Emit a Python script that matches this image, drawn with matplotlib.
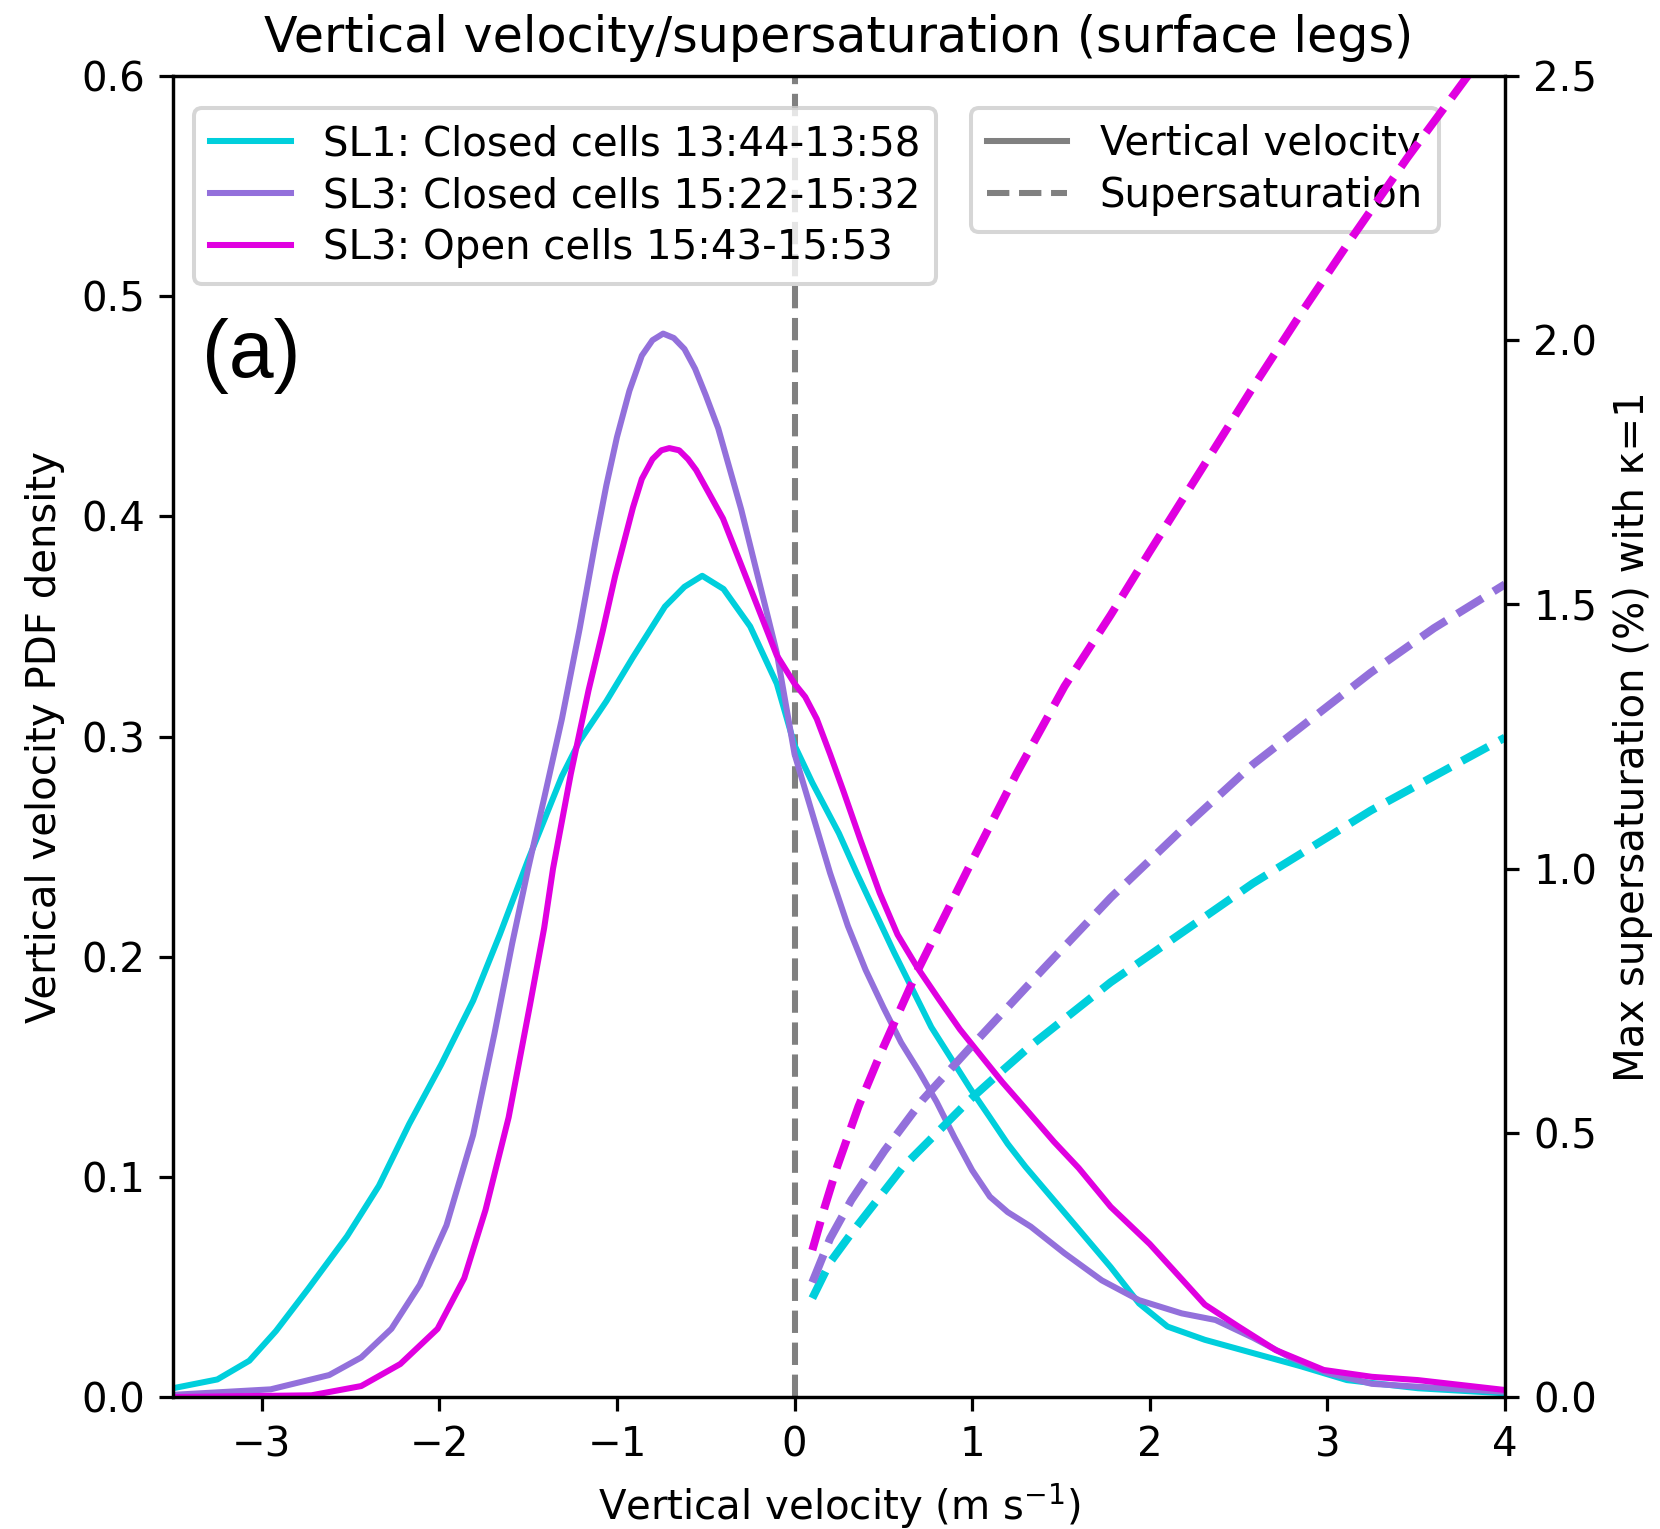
import matplotlib
matplotlib.use("Agg")
import matplotlib.pyplot as plt
from matplotlib.lines import Line2D

# ---------------- data ----------------
labels = ["SL1: Closed cells 13:44-13:58",
          "SL3: Closed cells 15:22-15:32",
          "SL3: Open cells 15:43-15:53"]
colors = ["#00cfdc", "mediumpurple", "#e000e0"]

# vertical velocity PDFs (left axis)
sl1_w = [-3.5, -3.25, -3.07, -2.92, -2.74, -2.52, -2.34, -2.17, -1.99, -1.81,
         -1.66, -1.5, -1.31, -1.21, -1.06, -0.91, -0.73, -0.62, -0.52, -0.40,
         -0.25, -0.10, 0.0, 0.10, 0.25, 0.35, 0.56, 0.77, 0.99, 1.1, 1.2,
         1.3, 1.57, 1.78, 1.94, 2.1, 2.31, 2.58, 2.85, 3.11, 3.51, 4.0]
sl1_pdf = [0.004, 0.008, 0.0165, 0.030, 0.049, 0.073, 0.096, 0.124, 0.151, 0.180,
           0.210, 0.244, 0.282, 0.298, 0.316, 0.336, 0.359, 0.368, 0.373, 0.367,
           0.350, 0.324, 0.296, 0.279, 0.256, 0.238, 0.202, 0.168, 0.140, 0.127, 0.115,
           0.1046, 0.079, 0.059, 0.0425, 0.032, 0.026, 0.020, 0.014, 0.0077, 0.004, 0.0017]

sl3c_w = [-3.5, -2.95, -2.62, -2.44, -2.27, -2.11, -1.96, -1.81, -1.69, -1.59,
          -1.5, -1.41, -1.31, -1.21, -1.12, -1.06, -1.0, -0.93, -0.86, -0.80,
          -0.74, -0.68, -0.62, -0.56, -0.50, -0.43, -0.30, -0.18, -0.10, 0.0,
          0.1, 0.2, 0.3, 0.4, 0.5, 0.6, 0.7, 0.8, 0.9, 1.0, 1.1, 1.2, 1.33,
          1.52, 1.73, 1.94, 2.18, 2.37, 2.58, 2.79, 3.0, 3.25, 3.51, 4.0]
sl3c_pdf = [0.001, 0.0035, 0.010, 0.018, 0.031, 0.051, 0.078, 0.119, 0.165, 0.206,
            0.240, 0.272, 0.308, 0.349, 0.389, 0.414, 0.436, 0.457, 0.473, 0.480,
            0.483, 0.481, 0.476, 0.467, 0.455, 0.440, 0.403, 0.364, 0.338, 0.292,
            0.265, 0.238, 0.214, 0.194, 0.177, 0.161, 0.148, 0.134, 0.118, 0.103, 0.091,
            0.084, 0.0774, 0.0653, 0.053, 0.044, 0.038, 0.035, 0.027, 0.018, 0.011,
            0.006, 0.0047, 0.0024]

sl3o_w = [-3.5, -2.72, -2.44, -2.22, -2.01, -1.86, -1.74, -1.61, -1.49, -1.41,
          -1.36, -1.26, -1.16, -1.08, -1.01, -0.91, -0.86, -0.80, -0.75, -0.705,
          -0.65, -0.60, -0.554, -0.403, -0.252, -0.101, 0.0, 0.06, 0.125, 0.2,
          0.276, 0.371, 0.479, 0.58, 0.692, 0.81, 0.931, 1.05, 1.17, 1.30, 1.46,
          1.6, 1.78, 2.0, 2.13, 2.31, 2.5, 2.71, 2.98, 3.25, 3.51, 4.0]
sl3o_pdf = [0.0, 0.0008, 0.005, 0.015, 0.031, 0.054, 0.085, 0.127, 0.178, 0.213,
            0.240, 0.283, 0.321, 0.348, 0.373, 0.404, 0.417, 0.426, 0.430, 0.431,
            0.430, 0.426, 0.421, 0.399, 0.368, 0.337, 0.324, 0.318, 0.308, 0.292,
            0.275, 0.253, 0.229, 0.210, 0.195, 0.181, 0.167, 0.155, 0.143, 0.131, 0.116,
            0.104, 0.0864, 0.0695, 0.058, 0.042, 0.032, 0.0213, 0.0123, 0.0092, 0.0077,
            0.0032]

# max supersaturation (right axis)
sl1_sw = [0.10, 0.2, 0.32, 0.612, 0.985, 1.144, 1.33, 1.78, 2.58, 3.245, 4.0]
sl1_ss = [0.187, 0.255, 0.31, 0.436, 0.562, 0.61, 0.665, 0.785, 0.972, 1.11, 1.248]

sl3c_sw = [0.10, 0.2, 0.32, 0.506, 0.72, 0.985, 1.4, 1.78, 2.2, 2.58, 3.245, 3.6, 4.0]
sl3c_ss = [0.217, 0.30, 0.373, 0.466, 0.562, 0.66, 0.81, 0.945, 1.08, 1.197, 1.371, 1.455, 1.538]

sl3o_sw = [0.10, 0.17, 0.24, 0.36, 0.48, 0.69, 0.985, 1.25, 1.52, 1.78, 2.0, 2.29,
           2.57, 2.85, 3.13, 3.45, 3.79, 4.0]
sl3o_ss = [0.278, 0.36, 0.436, 0.55, 0.647, 0.805, 1.005, 1.18, 1.345, 1.48, 1.60,
           1.755, 1.905, 2.05, 2.19, 2.345, 2.5, 2.6]

xticks = [-3, -2, -1, 0, 1, 2, 3, 4]
yticks_left = [0.0, 0.1, 0.2, 0.3, 0.4, 0.5, 0.6]
yticks_right = [0.0, 0.5, 1.0, 1.5, 2.0, 2.5]

# ---------------- figure ----------------
DPI = 290
fig = plt.figure(figsize=(1660 / DPI, 1529 / DPI), dpi=DPI)
ax = fig.add_axes([0.1042, 0.0863, 0.8024, 0.864])
ax2 = ax.twinx()

pdf_w = [sl1_w, sl3c_w, sl3o_w]
pdf_v = [sl1_pdf, sl3c_pdf, sl3o_pdf]
ss_w = [sl1_sw, sl3c_sw, sl3o_sw]
ss_v = [sl1_ss, sl3c_ss, sl3o_ss]

ax.axvline(0, color="gray", ls="--", lw=1.5)
for w, v, c, lab in zip(pdf_w, pdf_v, colors, labels):
    ax.plot(w, v, color=c, lw=1.5, label=lab)
for w, v, c in zip(ss_w, ss_v, colors):
    ax2.plot(w, v, color=c, lw=2.0, ls="--")

ax.set_xlim(-3.5, 4)
ax.set_ylim(0, 0.6)
ax2.set_ylim(0, 2.5)
ax.set_xticks(xticks)
ax.set_yticks(yticks_left)
ax2.set_yticks(yticks_right)

ax.set_xlabel("Vertical velocity (m s$^{-1}$)")
ax.set_ylabel("Vertical velocity PDF density")
ax2.set_ylabel("Max supersaturation (%) with κ=1")
ax.set_title("Vertical velocity/supersaturation (surface legs)", fontsize=12.2)

leg1 = ax.legend(loc="upper left", bbox_to_anchor=(0.0158, 0.9758),
                 borderaxespad=0, labelspacing=0.3)
ax.add_artist(leg1)
handles2 = [Line2D([], [], color="gray", lw=1.5, ls="-"),
            Line2D([], [], color="gray", lw=1.5, ls="--")]
ax.legend(handles2, ["Vertical velocity", "Supersaturation"], loc="upper left",
          bbox_to_anchor=(0.599, 0.9758), borderaxespad=0, labelspacing=0.3)

ax.text(0.022, 0.772, "(a)", transform=ax.transAxes, ha="left", va="baseline",
        fontsize=20, family=["Liberation Sans", "DejaVu Sans"])

fig.savefig("out.png", dpi=DPI)
